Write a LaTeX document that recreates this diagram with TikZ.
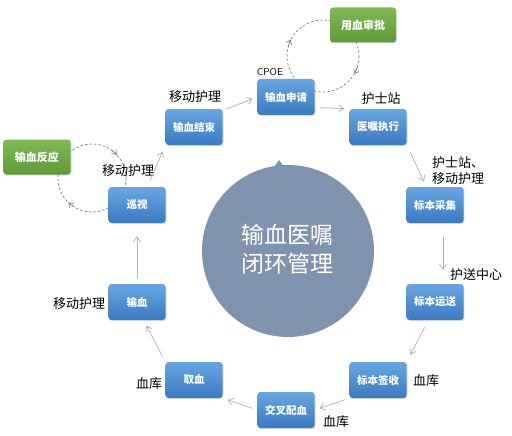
\documentclass[tikz,border=0pt]{standalone}
\usepackage{fontspec}
\newfontfamily\cjk{Noto Sans CJK SC}
\usetikzlibrary{arrows.meta,shadows}
\definecolor{circfill}{RGB}{127,147,175}
\definecolor{bluetop}{RGB}{104,166,226}
\definecolor{bluebot}{RGB}{58,122,194}
\definecolor{greentop}{RGB}{128,186,84}
\definecolor{greenbot}{RGB}{96,154,56}
\definecolor{arrowgray}{RGB}{175,175,175}
\definecolor{dashgray}{RGB}{120,125,135}
\tikzset{
  stepbox/.style={rectangle, rounded corners=3pt, minimum width=57pt, minimum height=36pt,
    top color=bluetop, bottom color=bluebot, draw=none, text=white,
    font=\cjk\fontsize{10.5}{12}\selectfont\bfseries,
    drop shadow={opacity=0.25, shadow xshift=1pt, shadow yshift=-1pt}},
  greenbox/.style={stepbox, minimum width=66pt, minimum height=35pt, top color=greentop, bottom color=greenbot,
    font=\cjk\fontsize{11}{13}\selectfont\bfseries},
  lbl/.style={font=\cjk\fontsize{13}{16}\selectfont, text=black, inner sep=0pt},
  flow/.style={draw=arrowgray, line width=0.7pt, -{Straight Barb[length=5pt,width=7pt]}},
  loopc/.style={draw=dashgray, line width=0.7pt, dash pattern=on 2.5pt off 2pt},
  looptip/.style={draw=dashgray, line width=0.7pt, -{Straight Barb[length=4pt,width=6pt]}},
}
\begin{document}
\begin{tikzpicture}[x=1pt,y=-1pt]
\useasboundingbox[fill=white] (0,0) rectangle (512,436);
% central circle
\fill[circfill] (288,251) circle (86);
\fill[circfill] (274,167) -- (279,160) -- (284,167) -- cycle;
\node[font=\cjk\fontsize{23}{29}\selectfont, text=white, align=center] (center) at (287,249) {输血医嘱\\闭环管理};
% dashed loops
\coordinate (c1) at (323,56);
\coordinate (c2) at (92,178);
\draw[loopc] (c1) circle (36);
\draw[looptip] (c1) ++(18:36) arc[start angle=18, end angle=30, radius=36];
\draw[looptip] (c1) ++(195:36) arc[start angle=195, end angle=207, radius=36];
\draw[loopc] (c2) circle (34);
\draw[looptip] (c2) ++(305:34) arc[start angle=305, end angle=317, radius=34];
\draw[looptip] (c2) ++(122:34) arc[start angle=122, end angle=134, radius=34];
% nodes
\node[greenbox] (shenpi) at (363,25) {用血审批};
\node[greenbox, minimum width=67pt] (fanying) at (37,157) {输血反应};
\node[stepbox] (shenqing) at (286,97) {输血申请};
\node[stepbox] (yizhu) at (378,127) {医嘱执行};
\node[stepbox] (caiji) at (435,205) {标本采集};
\node[stepbox] (yunsong) at (435,302) {标本运送};
\node[stepbox] (qianshou) at (378,380) {标本签收};
\node[stepbox] (peixue) at (286,410) {交叉配血};
\node[stepbox] (qu) at (194,380) {取血};
\node[stepbox] (shuxue) at (137,302) {输血};
\node[stepbox] (xunshi) at (137,205) {巡视};
\node[stepbox] (jieshu) at (194,127) {输血结束};
% labels
\node[lbl, font=\fontsize{10}{12}\selectfont\sffamily] (cpoe) at (270,72) {CPOE};
\node[lbl] (l1) at (381,99) {护士站};
\node[lbl] (l2) at (195,97) {移动护理};
\node[lbl] (l3) at (128,171) {移动护理};
\node[lbl, align=left, anchor=west] (l4) at (432,171) {护士站、\\移动护理};
\node[lbl] (l5) at (476,275) {护送中心};
\node[lbl] (l6) at (79,304) {移动护理};
\node[lbl] (l7) at (149,384) {血库};
\node[lbl] (l8) at (426,381) {血库};
\node[lbl] (l9) at (336,422) {血库};
% connectors
\draw[flow, shorten <=4pt, shorten >=5pt] (jieshu.30) -- (shenqing.west);
\draw[flow, shorten <=5pt, shorten >=5pt] (shenqing.-20) -- (yizhu.north west);
\draw[flow, shorten <=7pt, shorten >=6pt] (yizhu.south east) -- (caiji.115);
\draw[flow, shorten <=14pt, shorten >=14pt] ([xshift=8pt]caiji.south) -- ([xshift=8pt]yunsong.north);
\draw[flow, shorten <=8pt, shorten >=8pt] (yunsong.250) -- (qianshou.north east);
\draw[flow, shorten <=5pt, shorten >=5pt] (qianshou.south west) -- (peixue.east);
\draw[flow, shorten <=5pt, shorten >=5pt] (peixue.west) -- (qu.south east);
\draw[flow, shorten <=6pt, shorten >=6pt] (qu.north west) -- (shuxue.-70);
\draw[flow, shorten <=6pt, shorten >=13pt] (shuxue.north) -- (xunshi.south);
\draw[flow, shorten <=7pt, shorten >=7pt] (xunshi.60) -- (jieshu.south west);
\end{tikzpicture}
\end{document}
